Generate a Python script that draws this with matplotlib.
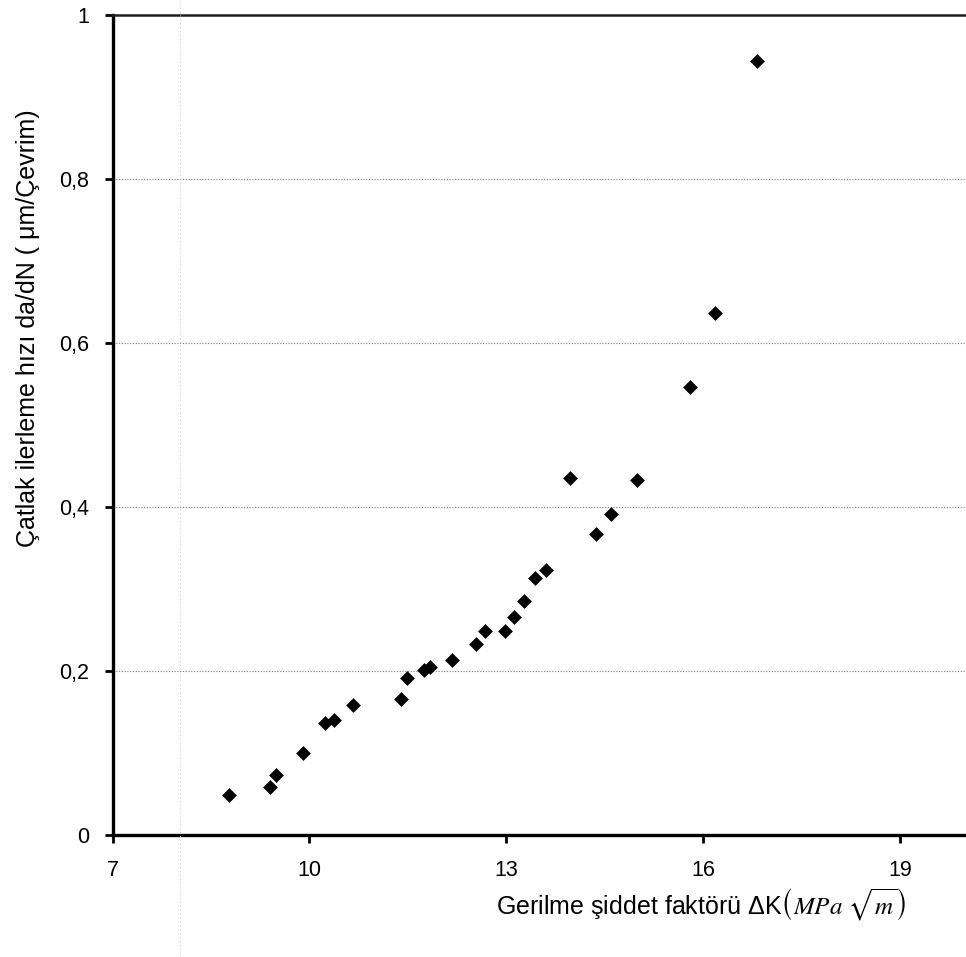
import matplotlib
matplotlib.use("Agg")
import matplotlib.pyplot as plt
from matplotlib.lines import Line2D

plt.rcParams['font.family'] = ['Liberation Sans', 'DejaVu Sans']
plt.rcParams['mathtext.fontset'] = 'stix'

# Stress intensity factor range (MPa*sqrt(m)) and crack growth rate (um/cycle)
delta_k = [8.77, 9.40, 9.49, 9.90, 10.24, 10.37, 10.66, 11.40, 11.49, 11.74,
           11.84, 12.17, 12.54, 12.67, 12.98, 13.12, 13.27, 13.44, 13.60, 13.97,
           14.37, 14.59, 14.99, 15.79, 16.17, 16.81]
da_dn = [0.049, 0.058, 0.073, 0.100, 0.136, 0.140, 0.159, 0.166, 0.192, 0.201,
         0.205, 0.214, 0.233, 0.249, 0.249, 0.266, 0.285, 0.314, 0.323, 0.435,
         0.367, 0.392, 0.433, 0.546, 0.636, 0.944]

x_ticks = [7, 10, 13, 16, 19]
y_ticks = [0, 0.2, 0.4, 0.6, 0.8, 1.0]
y_tick_labels = ['0', '0,2', '0,4', '0,6', '0,8', '1']

fig = plt.figure(figsize=(9.66, 9.57), dpi=100)
ax = fig.add_axes([0.1165, 0.1275, 0.8835, 0.8568])

ax.plot(delta_k, da_dn, linestyle='none', marker='D', markersize=7.4,
        color='black', markeredgewidth=0.4, zorder=3)

ax.set_xlim(7, 20)
ax.set_ylim(0, 1)
ax.set_xticks(x_ticks)
ax.set_xticklabels([str(t) for t in x_ticks])
ax.set_yticks(y_ticks)
ax.set_yticklabels(y_tick_labels)

ax.yaxis.grid(True, linestyle=(0, (1, 1.5)), color='#7a7a7a', linewidth=0.8)
ax.xaxis.grid(False)

for side in ['left', 'bottom']:
    ax.spines[side].set_linewidth(2.4)
    ax.spines[side].set_color('black')
ax.spines['top'].set_linewidth(1.8)
ax.spines['top'].set_color('#202020')
ax.spines['right'].set_visible(False)

ax.tick_params(axis='both', direction='out', length=6, width=2,
               labelsize=15.5, colors='black')
ax.tick_params(axis='y', pad=11)
ax.tick_params(axis='x', pad=12)

fig.text(28 / 966, 1 - 328 / 957, 'Çatlak ilerleme hızı da/dN ( μm/Çevrim)',
         rotation=90, ha='center', va='center', fontsize=18)
fig.text(701 / 966, 1 - 905 / 957,
         r'Gerilme şiddet faktörü ΔK$\left(MPa\ \sqrt{m}\right)$',
         ha='center', va='center', fontsize=18)

# faint vertical fold line running down the page
fig.add_artist(Line2D([180 / 966, 180 / 966], [0, 1], transform=fig.transFigure,
                      linestyle=(0, (1, 3)), color='#c4c4c4', linewidth=0.7))

fig.savefig('out.png', dpi=100, facecolor='white')
